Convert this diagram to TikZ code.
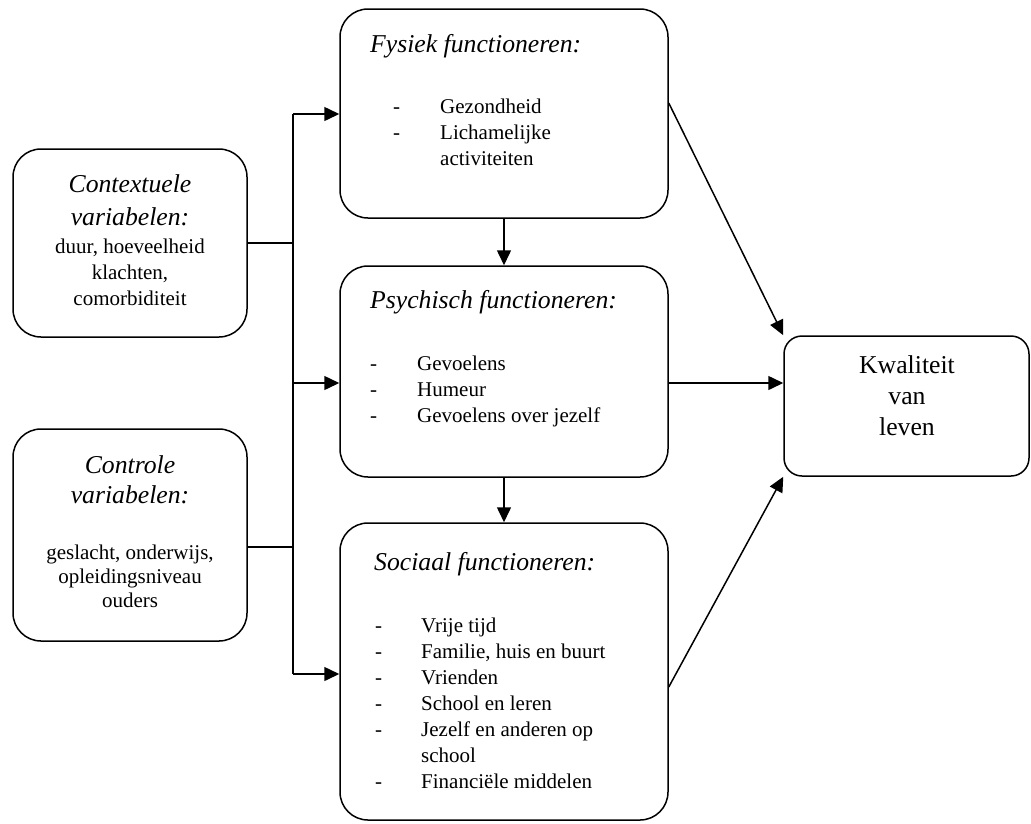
\documentclass[tikz,border=0pt]{standalone}
\usepackage{fontspec}
\setmainfont{Liberation Serif}
\usetikzlibrary{arrows.meta,calc}
\newcommand\hdfont{\fontsize{25.7}{31}\selectfont\itshape}
\newcommand\bdfont{\fontsize{21}{26}\selectfont}
\newcommand\kwfont{\fontsize{25.7}{31}\selectfont}
\begin{document}
\begin{tikzpicture}[x=1pt,y=-1pt,
  box/.style={draw,line width=1.5pt,rounded corners=28pt,inner sep=0pt},
  con/.style={line width=1.5pt},
  arr/.style={con,-{Triangle[length=15pt,width=14pt]}},
  tl/.style={inner sep=0pt,anchor=base west},
  tc/.style={inner sep=0pt,anchor=base}]
\useasboundingbox[fill=white] (0,0) rectangle (1031,823);
% boxes
\node[box,minimum width=234pt,minimum height=188pt] (ctx) at (130,243) {};
\node[box,minimum width=234pt,minimum height=212pt] (ctl) at (130,535) {};
\node[box,minimum width=328pt,minimum height=209pt] (fys) at (504,113.5) {};
\node[box,minimum width=328pt,minimum height=211pt] (psy) at (504,371.5) {};
\node[box,minimum width=328pt,minimum height=297pt] (soc) at (504,671.5) {};
\node[box,rounded corners=18pt,minimum width=245pt,minimum height=140pt] (kwa) at (906.5,406) {};
% texts: Contextuele
\node[tc] (c1) at (130,192) {\hdfont Contextuele};
\node[tc] (c2) at (130,225) {\hdfont variabelen:};
\node[tc] (c3) at (130,253) {\bdfont duur, hoeveelheid};
\node[tc] (c4) at (130,279) {\bdfont klachten,};
\node[tc] (c5) at (130,305) {\bdfont comorbiditeit};
% Controle
\node[tc] (k1) at (130,473) {\hdfont Controle};
\node[tc] (k2) at (130,503) {\hdfont variabelen:};
\node[tc] (k3) at (130,559) {\bdfont geslacht, onderwijs,};
\node[tc] (k4) at (130,583) {\bdfont opleidingsniveau};
\node[tc] (k5) at (130,607) {\bdfont ouders};
% Fysiek
\node[tl] (f0) at (370,52) {\hdfont Fysiek functioneren:};
\node[tl] (fd1) at (393,113) {\bdfont -};
\node[tl] (fd2) at (393,139) {\bdfont -};
\node[tl] (f1) at (440,113) {\bdfont Gezondheid};
\node[tl] (f2) at (440,139) {\bdfont Lichamelijke};
\node[tl] (f3) at (440,165) {\bdfont activiteiten};
% Psychisch
\node[tl] (p0) at (370,308) {\hdfont Psychisch functioneren:};
\node[tl] (pd1) at (370,370) {\bdfont -};
\node[tl] (pd2) at (370,396) {\bdfont -};
\node[tl] (pd3) at (370,422) {\bdfont -};
\node[tl] (p1) at (417,370) {\bdfont Gevoelens};
\node[tl] (p2) at (417,396) {\bdfont Humeur};
\node[tl] (p3) at (417,422) {\bdfont Gevoelens over jezelf};
% Sociaal
\node[tl] (s0) at (374,570) {\hdfont Sociaal functioneren:};
\foreach \yy/\nm in {632/sd1,658/sd2,684/sd3,710/sd4,736/sd5,788/sd6}
  \node[tl] (\nm) at (375,\yy) {\bdfont -};
\node[tl] (s1) at (421,632) {\bdfont Vrije tijd};
\node[tl] (s2) at (421,658) {\bdfont Familie, huis en buurt};
\node[tl] (s3) at (421,684) {\bdfont Vrienden};
\node[tl] (s4) at (421,710) {\bdfont School en leren};
\node[tl] (s5) at (421,736) {\bdfont Jezelf en anderen op};
\node[tl] (s6) at (421,762) {\bdfont school};
\node[tl] (s7) at (421,788) {\bdfont Financiële middelen};
% Kwaliteit
\node[tc] (q1) at (907,373) {\kwfont Kwaliteit};
\node[tc] (q2) at (907,404) {\kwfont van};
\node[tc] (q3) at (907,435) {\kwfont leven};
% connectors
\coordinate (bt) at (293,114);
\coordinate (bp) at (293,383);
\coordinate (bb) at (293,674);
\draw[con] (bt) -- (bb);
\draw[con] (ctx.east) -- (ctx.east -| bt);
\draw[con] ($(ctl.east)+(0,12)$) -- ($(ctl.east -| bt)+(0,12)$);
\draw[arr] (bt) -- (bt -| fys.west);
\draw[arr] (bp) -- (bp -| psy.west);
\draw[arr] (bb) -- (bb -| soc.west);
\draw[arr] (fys.south) -- (psy.north);
\draw[arr] (psy.south) -- (soc.north);
\draw[arr] (bp -| psy.east) -- (bp -| kwa.west);
\draw[arr] ($(fys.east)+(0,-10.5)$) -- (kwa.north west);
\draw[arr] ($(soc.east)+(0,15.5)$) -- (kwa.south west);
\end{tikzpicture}
\end{document}
